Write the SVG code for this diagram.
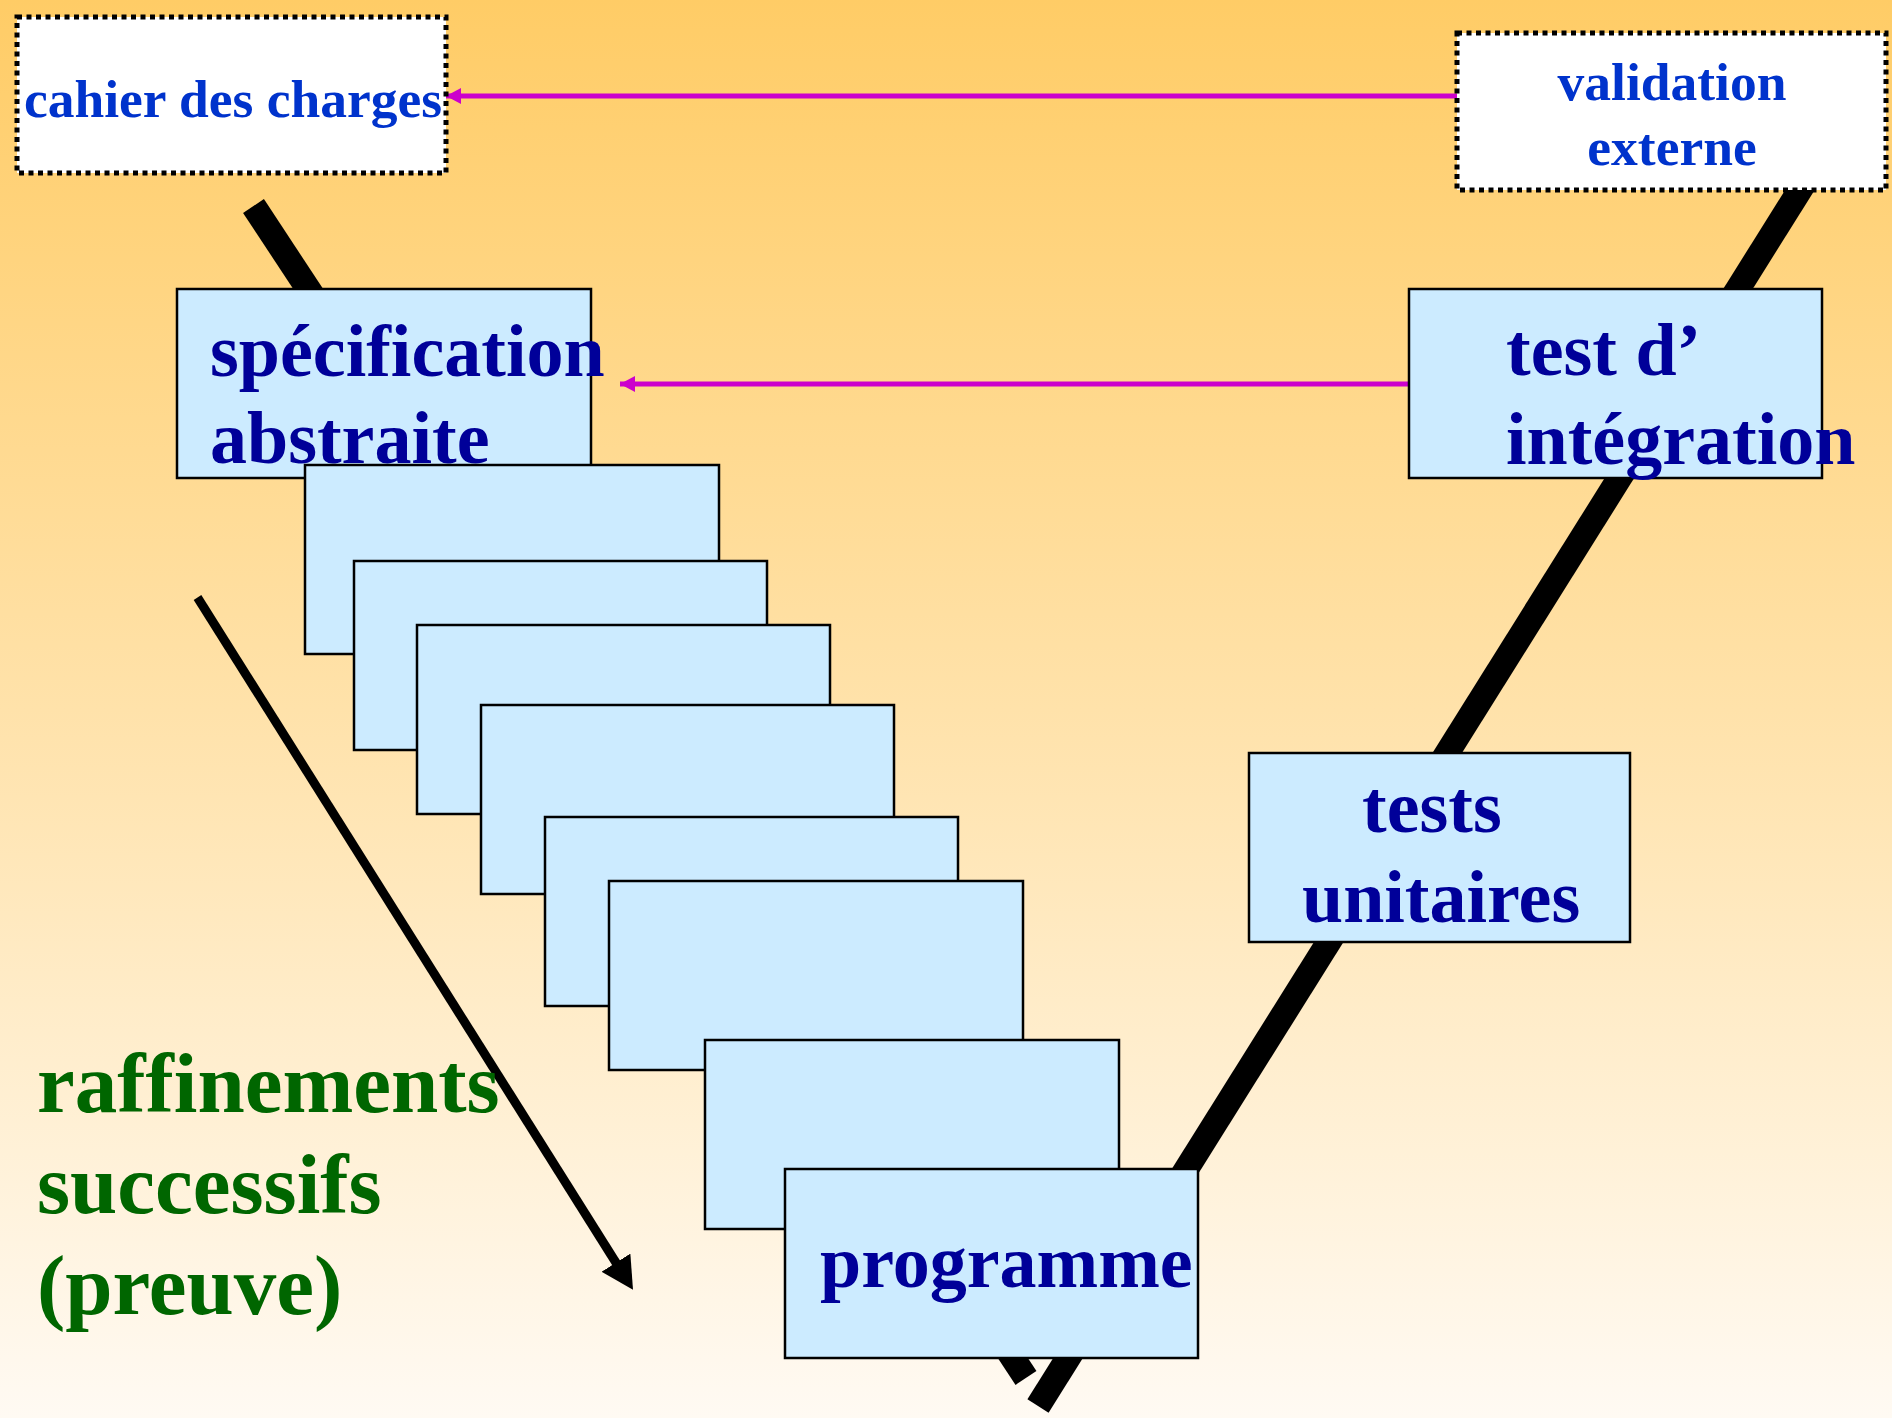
<svg xmlns="http://www.w3.org/2000/svg" width="1892" height="1418" viewBox="0 0 1892 1418">
  <defs>
    <linearGradient id="bg" x1="0" y1="0" x2="0" y2="1">
      <stop offset="0" stop-color="#FFCC66"/>
      <stop offset="0.5" stop-color="#FFE2AA"/>
      <stop offset="1" stop-color="#FFFAF3"/>
    </linearGradient>
    <marker id="mag-head" markerUnits="userSpaceOnUse" markerWidth="16" markerHeight="18" refX="15" refY="8" orient="auto">
      <path d="M0,0 L15,8 L0,16 Z" fill="#CC00CC"/>
    </marker>
    <!-- head drawn beyond the line end so the shaft never pokes through the tip -->
    <marker id="blk-head" markerUnits="userSpaceOnUse" markerWidth="34" markerHeight="36" refX="1" refY="17" orient="auto">
      <path d="M0,0 L32,17 L0,34 Z" fill="#000"/>
    </marker>
    <style>
      .stage { fill: #CCEBFF; stroke: #000; stroke-width: 2.5; }
      .doc { fill: #FFFFFF; stroke: #000; stroke-width: 5; stroke-dasharray: 5 4.5; }
      .big { font-family: "Liberation Serif", "Times New Roman", serif; font-weight: bold; font-size: 74px; fill: #000099; }
      .doc-text { font-family: "Liberation Serif", "Times New Roman", serif; font-weight: bold; font-size: 53.5px; fill: #0033CC; }
      .note { font-family: "Liberation Serif", "Times New Roman", serif; font-weight: bold; font-size: 85px; fill: #006600; }
      .v-leg { stroke: #000; stroke-width: 25; stroke-linecap: butt; fill: none; }
      .trace { stroke: #CC00CC; stroke-width: 5; fill: none; }
    </style>
  </defs>

  <!-- background -->
  <rect x="0" y="0" width="1892" height="1418" fill="url(#bg)"/>

  <!-- connectors: the V legs, the refinement arrow and the traceability arrows -->
  <g id="connectors">
    <line class="v-leg" x1="253.5" y1="206" x2="1026" y2="1378"/>
    <line class="v-leg" x1="1038" y1="1406" x2="1825" y2="150"/>
    <line stroke="#000" stroke-width="9" x1="197.5" y1="597.5" x2="616.5" y2="1263.5" marker-end="url(#blk-head)"/>
    <line class="trace" x1="1459" y1="96" x2="446" y2="96" marker-end="url(#mag-head)"/>
    <line class="trace" x1="1410" y1="384" x2="620" y2="384" marker-end="url(#mag-head)"/>
  </g>

  <g id="cahier">
    <rect class="doc" x="17" y="17" width="429" height="156"/>
    <text class="doc-text" x="24" y="117">cahier des charges</text>
  </g>

  <g id="validation">
    <rect class="doc" x="1457" y="33" width="429" height="157"/>
    <text class="doc-text" x="1672" y="100" text-anchor="middle">validation</text>
    <text class="doc-text" x="1672" y="165" text-anchor="middle">externe</text>
  </g>

  <g id="specification">
    <rect class="stage" x="177" y="289" width="414" height="189"/>
    <text class="big" x="210" y="376">spécification</text>
    <text class="big" x="210" y="463">abstraite</text>
  </g>

  <g id="step1"><rect class="stage" x="305" y="465" width="414" height="189"/></g>
  <g id="step2"><rect class="stage" x="354" y="561" width="413" height="189"/></g>
  <g id="step3"><rect class="stage" x="417" y="625" width="413" height="189"/></g>
  <g id="step4"><rect class="stage" x="481" y="705" width="413" height="189"/></g>
  <g id="step5"><rect class="stage" x="545" y="817" width="413" height="189"/></g>
  <g id="step6"><rect class="stage" x="609" y="881" width="414" height="189"/></g>
  <g id="step7"><rect class="stage" x="705" y="1040" width="414" height="189"/></g>

  <g id="programme">
    <rect class="stage" x="785" y="1169" width="413" height="189"/>
    <text class="big" x="820" y="1287">programme</text>
  </g>

  <g id="tests-unitaires">
    <rect class="stage" x="1249" y="753" width="381" height="189"/>
    <text class="big" x="1362" y="832">tests</text>
    <text class="big" x="1302" y="922">unitaires</text>
  </g>

  <g id="test-integration">
    <rect class="stage" x="1409" y="289" width="413" height="189"/>
    <text class="big" x="1506" y="375">test d’</text>
    <text class="big" x="1506" y="464">intégration</text>
  </g>

  <g id="raffinements">
    <text class="note" x="37" y="1112">raffinements</text>
    <text class="note" x="37" y="1213">successifs</text>
    <text class="note" x="37" y="1314">(preuve)</text>
  </g>
</svg>
